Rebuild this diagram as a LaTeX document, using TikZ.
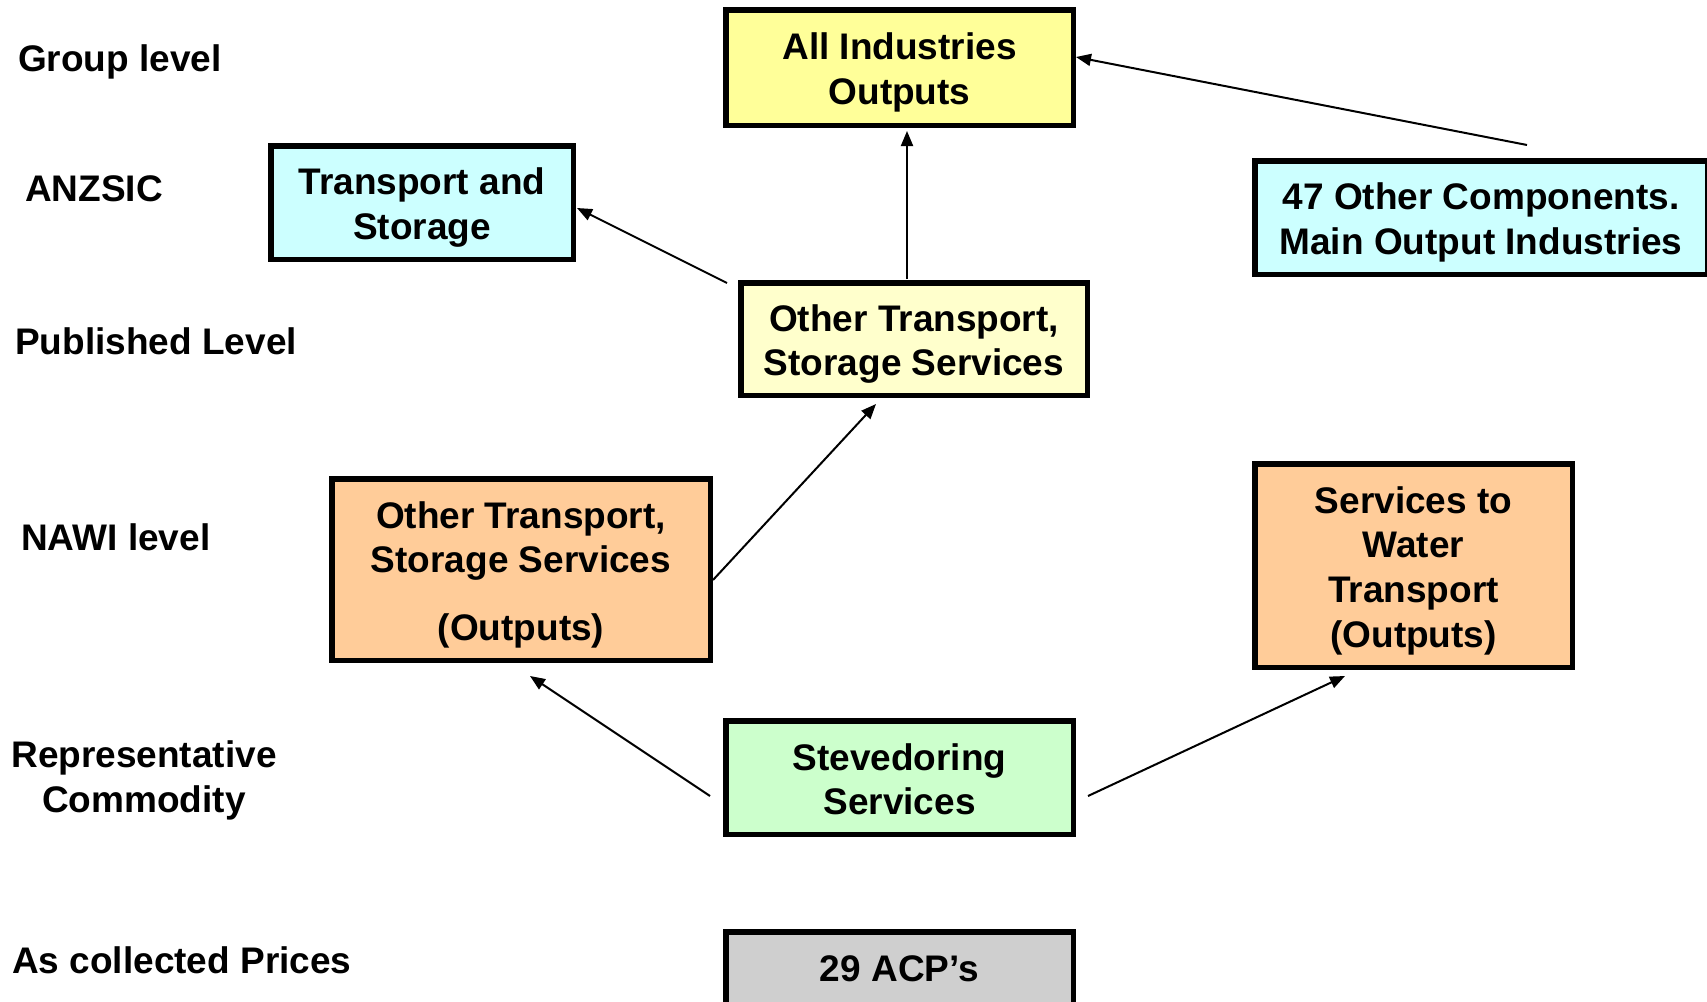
\documentclass[tikz,border=0pt]{standalone}
\usepackage{fontspec}
\setmainfont{Liberation Sans}
\usetikzlibrary{arrows.meta}
\definecolor{cyellow}{HTML}{FFFF99}
\definecolor{ccyan}{HTML}{CCFFFF}
\definecolor{clyellow}{HTML}{FFFFCC}
\definecolor{cpeach}{HTML}{FFCC99}
\definecolor{cgreen}{HTML}{CCFFCC}
\definecolor{cgray}{HTML}{CFCFCF}
\newcommand\mytopstrut{\rule{0pt}{37pt}}
\tikzset{
  bigfont/.style={font=\bfseries\fontsize{37}{44.6}\selectfont},
  boxnode/.style={draw=black, line width=5.5pt, bigfont, align=center, inner sep=0pt},
  lvl/.style={bigfont, inner sep=0pt, anchor=base west},
  conn/.style={line width=2pt, -{Triangle[length=15pt,width=12pt]}}
}
\begin{document}
\begin{tikzpicture}[x=1pt,y=-1pt]
\useasboundingbox[fill=white] (0,0) rectangle (1707,1001);
% level labels
\node[lvl] (l1) at (18,71) {Group level};
\node[lvl] (l2) at (25,201) {ANZSIC};
\node[lvl] (l3) at (15,354) {Published Level};
\node[lvl] (l4) at (21,550) {NAWI level};
\node[bigfont, inner sep=0pt, anchor=base, align=center] (l5) at (144,812) {Representative\\Commodity};
\node[lvl] (l6) at (12,973) {As collected Prices};
% boxes
\node[boxnode, fill=cyellow, minimum width=347.5pt, minimum height=115.5pt] (allind) at (899.5,67.5) {\mytopstrut All Industries\\Outputs};
\node[boxnode, fill=ccyan, minimum width=302.5pt, minimum height=113.5pt] (transtor) at (422,202.5) {\mytopstrut Transport and\\Storage};
\node[boxnode, fill=ccyan, minimum width=452.5pt, minimum height=113.5pt] (other47) at (1481,217.5) {\mytopstrut 47 Other Components.\\Main Output Industries};
\node[boxnode, fill=clyellow, minimum width=346.5pt, minimum height=112.5pt] (pub) at (914,339) {\mytopstrut Other Transport,\\Storage Services};
\node[boxnode, fill=cpeach, minimum width=378.5pt, minimum height=181.5pt] (nawi) at (521,569.5) {\mytopstrut Other Transport,\\Storage Services\\[23pt](Outputs)};
\node[boxnode, fill=cpeach, minimum width=317.5pt, minimum height=203.5pt] (water) at (1413.5,565.5) {\mytopstrut Services to\\Water\\Transport\\(Outputs)};
\node[boxnode, fill=cgreen, minimum width=347.5pt, minimum height=113.5pt] (stev) at (899.5,777.5) {\rule{0pt}{30pt}Stevedoring\\Services};
\node[boxnode, fill=cgray, minimum width=347.5pt, minimum height=94.5pt, text depth=0pt] (acp) at (899.5,979) {};
\node[bigfont, inner sep=0pt, anchor=base] (acpt) at (899.5,981) {29 ACP’s};
% connector end points
\coordinate (a1s) at (1527,145);
\coordinate (a1e) at (1076,57);
\coordinate (a2s) at (907,279);
\coordinate (a2e) at (907,131);
\coordinate (a3s) at (727,283);
\coordinate (a3e) at (577,208);
\coordinate (a4s) at (713,580);
\coordinate (a4e) at (876,404);
\coordinate (a5s) at (710,796);
\coordinate (a5e) at (530,676);
\coordinate (a6s) at (1088,796);
\coordinate (a6e) at (1345,676);
\draw[conn] (a1s) -- (a1e);
\draw[conn] (a2s) -- (a2e);
\draw[conn] (a3s) -- (a3e);
\draw[conn] (a4s) -- (a4e);
\draw[conn] (a5s) -- (a5e);
\draw[conn] (a6s) -- (a6e);
\end{tikzpicture}
\end{document}
